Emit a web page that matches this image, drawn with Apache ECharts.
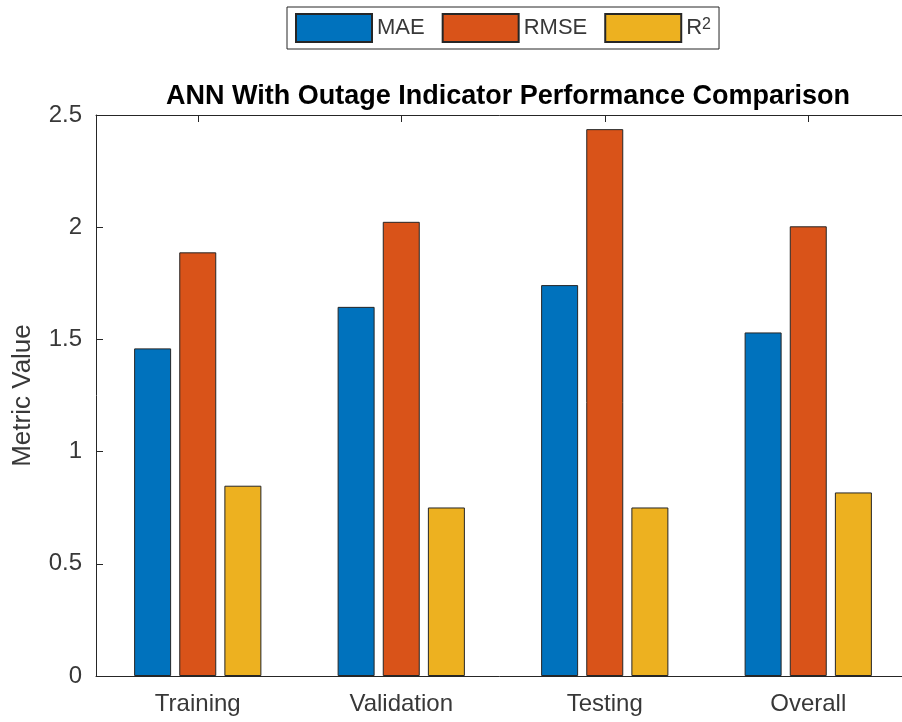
<!DOCTYPE html>
<html>
<head>
<meta charset="utf-8">
<script src="https://cdn.jsdelivr.net/npm/echarts@6/dist/echarts.min.js"></script>
<style>
html,body{margin:0;padding:0;background:#fff;}
#chart{width:902px;height:722px;}
</style>
</head>
<body>
<div id="chart"></div>
<script>
const categories = ['Training', 'Validation', 'Testing', 'Overall'];
const maeValues = [1.46, 1.645, 1.742, 1.531];
const rmseValues = [1.888, 2.024, 2.437, 2.004];
const r2Values = [0.848, 0.751, 0.751, 0.818];
const yTicks = [0, 0.5, 1, 1.5, 2, 2.5];
const titleText = 'ANN With Outage Indicator Performance Comparison';
const yLabel = 'Metric Value';

const axisColor = '#262626';
const textColor = '#383838';
const fontFam = 'Liberation Sans, Arial, Helvetica, sans-serif';

const chart = echarts.init(document.getElementById('chart'), null, {renderer: 'canvas'});

const barStyle = (c) => ({color: c, borderColor: '#262626', borderWidth: 1});

const option = {
  animation: false,
  backgroundColor: '#ffffff',
  title: {
    text: titleText,
    left: 503,
    textAlign: 'center',
    top: 78,
    textStyle: {fontFamily: fontFam, fontSize: 27, fontWeight: 'bold', color: '#000000'}
  },
  legend: {
    left: 287,
    top: 7,
    padding: [6, 8, 6, 8],
    borderColor: axisColor,
    borderWidth: 1,
    itemWidth: 76,
    itemHeight: 28,
    itemGap: 17,
    icon: 'rect',
    textStyle: {
      fontFamily: fontFam, fontSize: 22, color: textColor,
      rich: {
        n: {fontFamily: fontFam, fontSize: 22, color: textColor, verticalAlign: 'bottom'},
        s: {fontFamily: fontFam, fontSize: 16, color: textColor, verticalAlign: 'top'}
      }
    },
    formatter: function (name) {
      if (name === 'R²') return '{n|R}{s|2}';
      return name;
    },
    data: ['MAE', 'RMSE', 'R²']
  },
  grid: {
    left: 96, right: -8, top: 115, bottom: 46,
    containLabel: false,
    outerBoundsMode: 'none'
  },
  xAxis: [
    {
      type: 'category',
      data: categories,
      position: 'bottom',
      axisLine: {show: true, onZero: false, lineStyle: {color: axisColor, width: 1}},
      axisTick: {show: true, inside: true, alignWithLabel: true, length: 7, lineStyle: {color: axisColor}},
      axisLabel: {fontFamily: fontFam, fontSize: 24, color: textColor, margin: 16},
      splitLine: {show: false}
    },
    {
      type: 'category',
      data: categories,
      position: 'top',
      axisLine: {show: true, onZero: false, lineStyle: {color: axisColor, width: 1}},
      axisTick: {show: true, inside: true, alignWithLabel: true, length: 7, lineStyle: {color: axisColor}},
      axisLabel: {show: false},
      splitLine: {show: false}
    }
  ],
  yAxis: [
    {
      type: 'value',
      min: yTicks[0],
      max: yTicks[yTicks.length - 1],
      interval: yTicks[1] - yTicks[0],
      position: 'left',
      name: yLabel,
      nameLocation: 'middle',
      nameGap: 60,
      nameTextStyle: {fontFamily: fontFam, fontSize: 26, color: textColor},
      axisLine: {show: true, onZero: false, lineStyle: {color: axisColor, width: 1}},
      axisTick: {show: true, inside: true, length: 7, lineStyle: {color: axisColor}},
      axisLabel: {fontFamily: fontFam, fontSize: 24, color: textColor, margin: 14},
      splitLine: {show: false}
    },
    {
      type: 'value',
      min: yTicks[0],
      max: yTicks[yTicks.length - 1],
      interval: yTicks[1] - yTicks[0],
      position: 'right',
      axisLine: {show: true, onZero: false, lineStyle: {color: axisColor, width: 1}},
      axisTick: {show: true, inside: true, length: 7, lineStyle: {color: axisColor}},
      axisLabel: {show: false},
      splitLine: {show: false}
    }
  ],
  series: [
    {name: 'MAE', type: 'bar', data: maeValues, barWidth: 37, barGap: '22%', itemStyle: barStyle('#0072BD')},
    {name: 'RMSE', type: 'bar', data: rmseValues, barWidth: 37, barGap: '22%', itemStyle: barStyle('#D95319')},
    {name: 'R²', type: 'bar', data: r2Values, barWidth: 37, barGap: '22%', itemStyle: barStyle('#EDB120')}
  ]
};
chart.setOption(option);
</script>
</body>
</html>
